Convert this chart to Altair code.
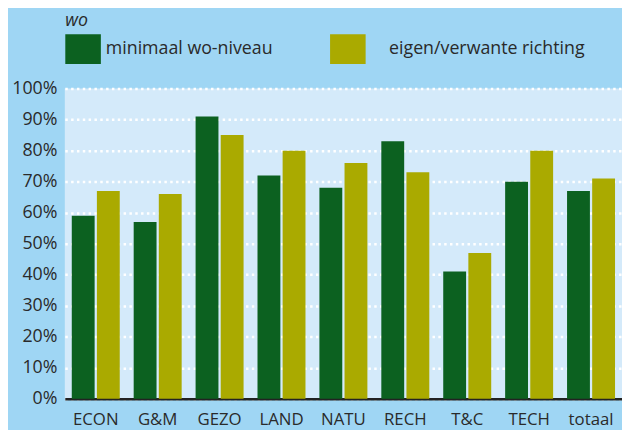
import altair as alt
import pandas as pd

categories = ["ECON", "G&M", "GEZO", "LAND", "NATU", "RECH", "T&C", "TECH", "totaal"]
series = ["minimaal wo-niveau", "eigen/verwante richting"]
min_wo = [59, 57, 91, 72, 68, 83, 41, 70, 67]
eigen = [67, 66, 85, 80, 76, 73, 47, 80, 71]
colors = ["#0c6120", "#aaaa00"]
y_ticks = [0, 10, 20, 30, 40, 50, 60, 70, 80, 90, 100]

rows = []
for c, a, b in zip(categories, min_wo, eigen):
    rows.append({"cat": c, "serie": series[0], "val": a})
    rows.append({"cat": c, "serie": series[1], "val": b})
df = pd.DataFrame(rows)

FONT = "Open Sans"
TXT = "#2a2a2a"

rect_path = "M-1,-0.833L1,-0.833L1,0.833L-1,0.833Z"

chart = (
    alt.Chart(df)
    .mark_bar()
    .encode(
        x=alt.X(
            "cat:N",
            sort=categories,
            title=None,
            scale=alt.Scale(paddingInner=0.225, paddingOuter=0.1125),
            axis=alt.Axis(
                labelAngle=0,
                labelFontSize=17,
                labelFont=FONT,
                labelColor=TXT,
                labelPadding=13,
                ticks=False,
                tickSize=0,
                domainColor="#222222",
                domainWidth=2.5,
                grid=False,
            ),
        ),
        xOffset=alt.XOffset(
            "serie:N",
            sort=series,
            scale=alt.Scale(paddingInner=0.09, paddingOuter=0),
        ),
        y=alt.Y(
            "val:Q",
            title=None,
            scale=alt.Scale(domain=[0, 100], nice=False),
            axis=alt.Axis(
                values=y_ticks,
                labelExpr="datum.value + '%'",
                labelFontSize=18,
                labelFont=FONT,
                labelColor=TXT,
                labelPadding=8,
                ticks=False,
                domain=False,
                grid=True,
                gridColor="#ffffff",
                gridWidth=2.5,
                gridDash=[2.5, 3.4],
                gridOpacity=1,
            ),
        ),
        color=alt.Color(
            "serie:N",
            sort=series,
            scale=alt.Scale(domain=series, range=colors),
            legend=alt.Legend(
                title="wo",
                orient="none",
                legendX=0.5,
                legendY=-77,
                direction="horizontal",
                titleFont=FONT,
                titleFontSize=18,
                titleFontStyle="italic",
                titleFontWeight="normal",
                titleColor=TXT,
                titlePadding=1,
                titleAnchor="start",
                labelFont=FONT,
                labelFontSize=18,
                labelColor=TXT,
                labelOffset=5,
                labelLimit=400,
                labelExpr="datum.label == 'eigen/verwante richting' ? '\u200b\u00a0\u00a0\u00a0\u00a0' + datum.label : datum.label",
                symbolType=rect_path,
                symbolSize=1296,
                symbolStrokeWidth=0,
                symbolOpacity=1,
                columnPadding=58,
                padding=0,
            ),
        ),
    )
    .properties(
        width=564,
        height=314,
        background="#9fd6f4",
        padding={"left": 57.5, "top": 79, "right": 0, "bottom": 29},
        autosize=alt.AutoSizeParams(type="none"),
    )
    .configure_view(fill="#d4eafa", stroke=None, strokeWidth=0)
)

chart.save("out.html", embed_options={"renderer": "svg", "actions": False})
